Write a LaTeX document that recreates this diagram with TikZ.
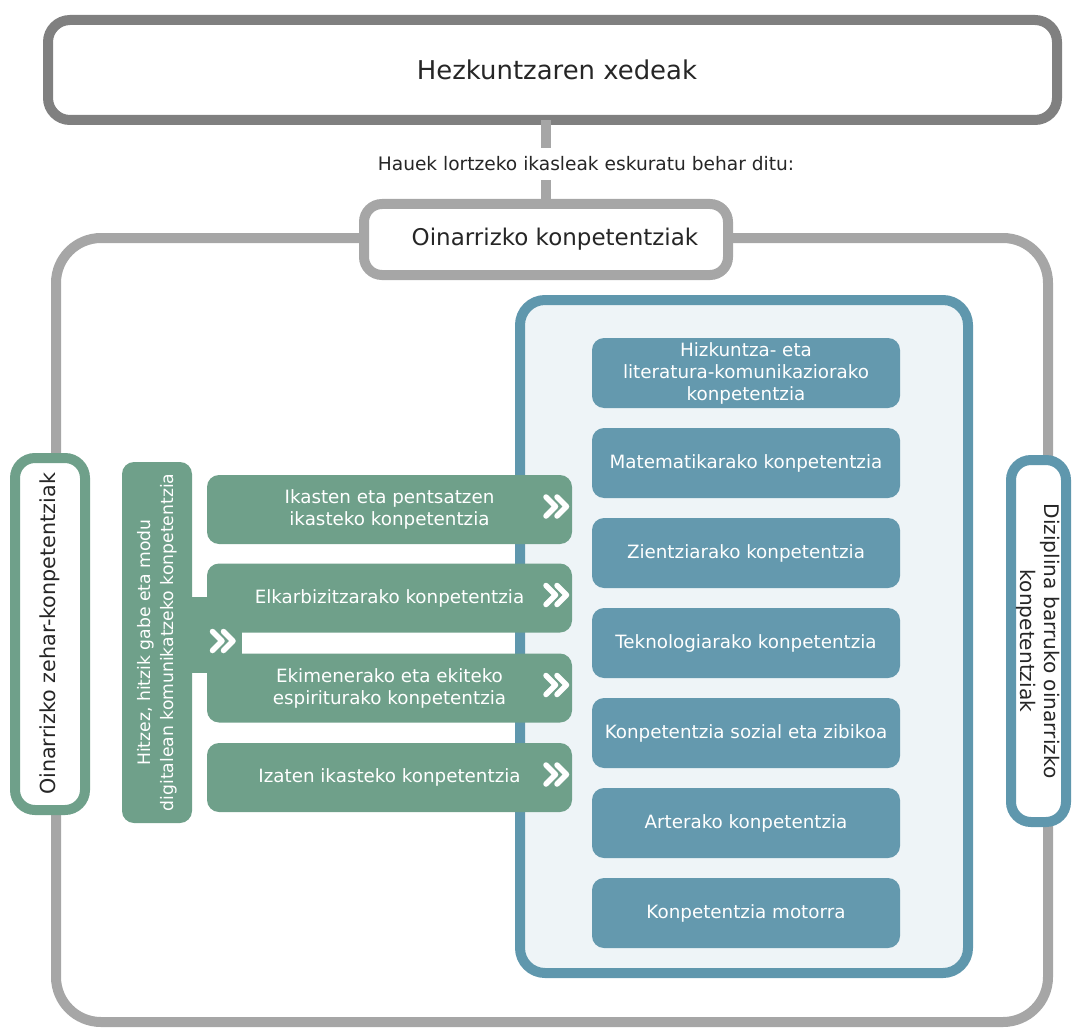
\documentclass[tikz,border=0pt]{standalone}
\usepackage{fontspec}
\setmainfont{DejaVu Sans}
\definecolor{gdark}{HTML}{808080}
\definecolor{glight}{HTML}{A6A6A6}
\definecolor{grn}{HTML}{6FA08A}
\definecolor{blstroke}{HTML}{5F97AD}
\definecolor{blfill}{HTML}{6499AE}
\definecolor{blbg}{HTML}{EEF4F7}
\definecolor{txt}{HTML}{262626}
\begin{document}
\begin{tikzpicture}[x=1pt,y=-1pt,
  every node/.style={inner sep=0pt, outer sep=0pt},
  topbox/.style={draw=gdark, line width=10pt, rounded corners=22pt, fill=white, text=txt},
  lbox/.style={draw=glight, line width=10pt, rounded corners=18pt, fill=white, text=txt},
  sidegreen/.style={draw=grn, line width=10pt, rounded corners=20pt, fill=white, text=txt, align=center},
  sideblue/.style={draw=blstroke, line width=10pt, rounded corners=20pt, fill=white, text=txt, align=center},
  gbox/.style={fill=grn, rounded corners=12pt, text=white, align=center, minimum width=365pt, minimum height=69pt, font=\fontsize{18.3}{22}\selectfont},
  bbox/.style={fill=blfill, rounded corners=12pt, text=white, align=center, minimum width=308pt, minimum height=70pt, font=\fontsize{18.3}{22}\selectfont},
  chev/.style={draw=white, line width=5.5pt, line cap=round, line join=round},
  conn/.style={draw=glight, line width=10pt}
]
\useasboundingbox (0,0) rectangle (1077,1030);
\newcommand\chevpair[1]{%
  \begin{scope}[shift={(#1)}]
    \draw[chev] (-10.5,-9.5) -- (-1,0) -- (-10.5,9.5);
    \draw[chev] (0.5,-9.5) -- (10,0) -- (0.5,9.5);
  \end{scope}}

% outer container
\node[draw=glight, line width=10pt, rounded corners=45pt, minimum width=992pt, minimum height=784pt] (outer) at (552,630) {};

% top box and connector
\node[topbox, minimum width=1009pt, minimum height=100pt, font=\fontsize{25.9}{30}\selectfont] (top) at (552.5,70) {\hspace*{9pt}Hezkuntzaren xedeak};
\node[lbox, minimum width=364pt, minimum height=71pt, font=\fontsize{23}{27}\selectfont] (oin) at (546,239.5) {\hspace*{18pt}Oinarrizko konpetentziak};
\draw[conn] (oin.north) -- (oin.north |- top.south);
\node[fill=white, inner xsep=4pt, inner ysep=9pt, text=txt, font=\fontsize{18.6}{22}\selectfont] (hauek) at (586,164) {Hauek lortzeko ikasleak eskuratu behar ditu:};

% side boxes
\node[sidegreen, rotate=90, minimum width=352pt, minimum height=70pt, font=\fontsize{20.7}{24}\selectfont] (zehar) at (50,634) {Oinarrizko zehar-konpetentziak};
\node[sideblue, rotate=-90, minimum width=362pt, minimum height=55pt, font=\fontsize{20.1}{24}\selectfont] (diz) at (1038.5,641) {Diziplina barruko oinarrizko\\konpetentziak};

% blue container
\node[draw=blstroke, fill=blbg, line width=10pt, rounded corners=25pt, minimum width=448pt, minimum height=673pt] (bcont) at (744,636.5) {};

\node[bbox] (b1) at (746,373) {Hizkuntza- eta\\literatura-komunikaziorako\\konpetentzia};
\node[bbox] (b2) at (746,463) {Matematikarako konpetentzia};
\node[bbox] (b3) at (746,553) {Zientziarako konpetentzia};
\node[bbox] (b4) at (746,643) {Teknologiarako konpetentzia};
\node[bbox] (b5) at (746,733) {Konpetentzia sozial eta zibikoa};
\node[bbox] (b6) at (746,823) {Arterako konpetentzia};
\node[bbox] (b7) at (746,913) {Konpetentzia motorra};

% green vertical box with stub
\fill[grn] (185,597) rectangle (242,673);
\node[fill=grn, rounded corners=12pt, rotate=90, minimum width=361pt, minimum height=70pt, text=white, align=center, font=\fontsize{17.2}{23}\selectfont] (hitz) at (157,642.5) {Hitzez, hitzik gabe eta modu\\digitalean komunikatzeko konpetentzia};

\node[gbox] (g1) at (389.5,509.5) {Ikasten eta pentsatzen\\ikasteko konpetentzia};
\node[gbox] (g2) at (389.5,598) {Elkarbizitzarako konpetentzia};
\node[gbox] (g3) at (389.5,688) {Ekimenerako eta ekiteko\\espiriturako konpetentzia};
\node[gbox] (g4) at (389.5,777.5) {Izaten ikasteko konpetentzia};

\coordinate (c0) at (223,641);
\chevpair{c0}
\coordinate (c1) at ([xshift=-15.5pt,yshift=3pt]g1.east);
\coordinate (c2) at ([xshift=-15.5pt,yshift=3pt]g2.east);
\coordinate (c3) at ([xshift=-15.5pt,yshift=3pt]g3.east);
\coordinate (c4) at ([xshift=-15.5pt,yshift=3pt]g4.east);
\chevpair{c1}\chevpair{c2}\chevpair{c3}\chevpair{c4}
\end{tikzpicture}
\end{document}
